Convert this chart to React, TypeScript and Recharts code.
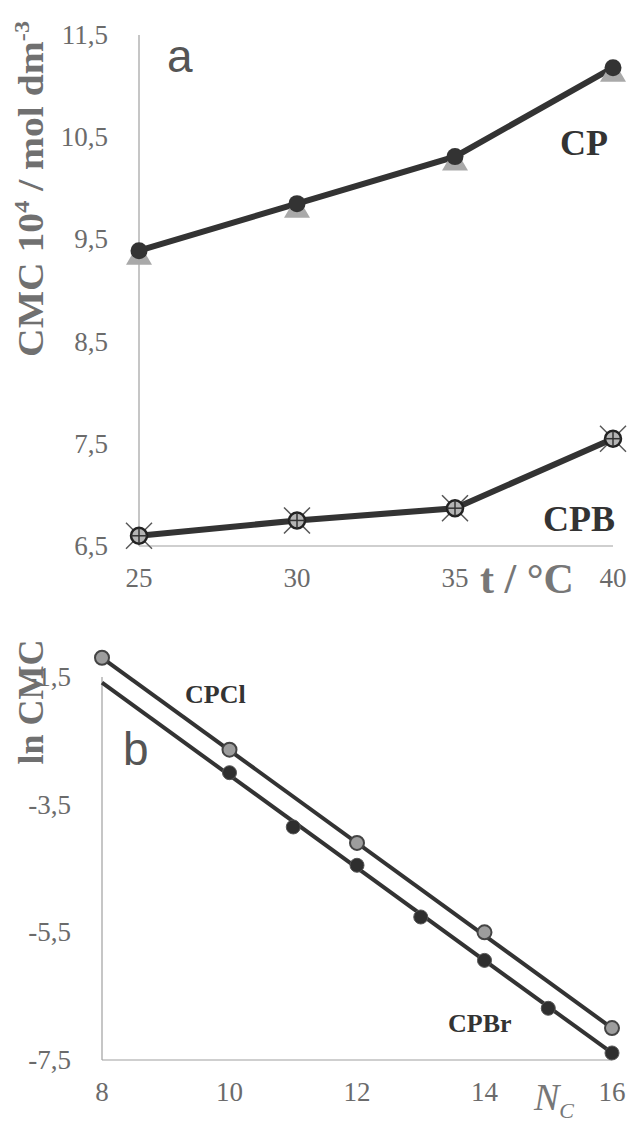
import React from 'react';
import {
  ComposedChart,
  Line,
  LineChart,
  ReferenceLine,
  Scatter,
  XAxis,
  YAxis,
} from 'recharts';

// panel a: CMC vs temperature
const tempC = [25, 30, 35, 40];
const cmcCP = [9.39, 9.85, 10.31, 11.18];
const cmcCPB = [6.6, 6.75, 6.87, 7.55];
const tempTicks = [25, 30, 35, 40];
const cmcTicks = [6.5, 7.5, 8.5, 9.5, 10.5, 11.5];

// panel b: ln CMC vs chain length
const chainCl = [8, 10, 12, 14, 16];
const lnCPCl = [-1.2, -2.64, -4.1, -5.5, -7.0];
const chainBr = [10, 11, 12, 13, 14, 15, 16];
const lnCPBr = [-3.0, -3.85, -4.45, -5.26, -5.94, -6.69, -7.39];
const fitChain = [8, 16];
const fitCPCl = [-1.2, -7.0];
const fitCPBr = [-1.59, -7.39];
const chainTicks = [8, 10, 12, 14, 16];
const lnTicks = [-7.5, -5.5, -3.5, -1.5];

const tempData = tempC.map((t, i) => ({ t, cp: cmcCP[i], cpb: cmcCPB[i] }));
const clData = chainCl.map((n, i) => ({ n, ln: lnCPCl[i] }));
const brData = chainBr.map((n, i) => ({ n, ln: lnCPBr[i] }));
const fitClData = fitChain.map((n, i) => ({ n, ln: fitCPCl[i] }));
const fitBrData = fitChain.map((n, i) => ({ n, ln: fitCPBr[i] }));

const SERIF = '"Liberation Serif", "DejaVu Serif", serif';
const SANS = '"Liberation Sans", Arial, sans-serif';
const AXIS = '#a0a0a0';
const TICK = '#6b6b6b';

const fmt = (v: number) => String(v).replace('.', ',');

const XTick = (props: any) => {
  const { x, y, payload } = props;
  return (
    <text x={x} y={y + 41} textAnchor="middle" fontFamily={SERIF} fontSize={27} fill={TICK}>
      {fmt(payload.value)}
    </text>
  );
};

const YTick = (props: any) => {
  const { x, y, payload } = props;
  return (
    <text x={x - 31} y={y + 9} textAnchor="end" fontFamily={SERIF} fontSize={27} fill={TICK}>
      {fmt(payload.value)}
    </text>
  );
};

const CpDot = (props: any) => {
  const { cx, cy } = props;
  return (
    <g>
      <polygon
        points={`${cx - 13},${cy + 14} ${cx + 13},${cy + 14} ${cx},${cy - 8}`}
        fill="#a9a9a9"
      />
      <circle cx={cx} cy={cy} r={8.5} fill="#333" />
    </g>
  );
};

const CpbDot = (props: any) => {
  const { cx, cy } = props;
  return (
    <g>
      <line x1={cx - 13} y1={cy - 13} x2={cx + 13} y2={cy + 13} stroke="#555" strokeWidth={1.5} />
      <line x1={cx - 13} y1={cy + 13} x2={cx + 13} y2={cy - 13} stroke="#555" strokeWidth={1.5} />
      <circle cx={cx} cy={cy} r={8} fill="#b4b4b4" stroke="#222" strokeWidth={2.5} />
      <line x1={cx - 8} y1={cy} x2={cx + 8} y2={cy} stroke="#333" strokeWidth={1.5} />
      <line x1={cx} y1={cy - 8} x2={cx} y2={cy + 8} stroke="#333" strokeWidth={1.5} />
    </g>
  );
};

const ClDot = (props: any) => (
  <circle cx={props.cx} cy={props.cy} r={7} fill="#9d9d9d" stroke="#444" strokeWidth={2} />
);

const BrDot = (props: any) => (
  <circle cx={props.cx} cy={props.cy} r={7} fill="#2e2e2e" stroke="#555" strokeWidth={1} />
);

function PanelA() {
  return (
    <LineChart
      width={632}
      height={610}
      data={tempData}
      margin={{ top: 35, right: 19, left: 0, bottom: 0 }}
    >
      <XAxis
        dataKey="t"
        type="number"
        domain={[25, 40]}
        ticks={tempTicks}
        height={64}
        tickLine={false}
        tickSize={0}
        tickMargin={0}
        axisLine={{ stroke: AXIS, strokeWidth: 1.2 }}
        tick={<XTick />}
      />
      <YAxis
        type="number"
        domain={[6.5, 11.5]}
        ticks={cmcTicks}
        width={139}
        tickLine={false}
        tickSize={0}
        tickMargin={0}
        axisLine={{ stroke: AXIS, strokeWidth: 1.2 }}
        tick={<YTick />}
      />
      <Line
        dataKey="cp"
        stroke="#333"
        strokeWidth={6}
        dot={<CpDot />}
        isAnimationActive={false}
      />
      <Line
        dataKey="cpb"
        stroke="#333"
        strokeWidth={6}
        dot={<CpbDot />}
        isAnimationActive={false}
      />
    </LineChart>
  );
}

function PanelB() {
  return (
    <ComposedChart width={632} height={524} margin={{ top: 45, right: 20, left: 0, bottom: 0 }}>
      <XAxis
        dataKey="n"
        type="number"
        domain={[8, 16]}
        ticks={chainTicks}
        height={64}
        tickLine={false}
        tickSize={0}
        tickMargin={0}
        axisLine={{ stroke: AXIS, strokeWidth: 1.2 }}
        tick={<XTick />}
      />
      <YAxis
        dataKey="ln"
        type="number"
        domain={[-7.5, -1.0]}
        ticks={lnTicks}
        width={102}
        tickLine={false}
        tickSize={0}
        tickMargin={0}
        axisLine={false}
        tick={<YTick />}
      />
      <ReferenceLine
        segment={[
          { x: 8, y: -7.5 },
          { x: 8, y: -1.5 },
        ]}
        stroke={AXIS}
        strokeWidth={1.2}
      />
      <Line
        data={fitClData}
        dataKey="ln"
        stroke="#333"
        strokeWidth={4}
        dot={false}
        isAnimationActive={false}
      />
      <Line
        data={fitBrData}
        dataKey="ln"
        stroke="#333"
        strokeWidth={4}
        dot={false}
        isAnimationActive={false}
      />
      <Scatter data={clData} dataKey="ln" shape={<ClDot />} isAnimationActive={false} />
      <Scatter data={brData} dataKey="ln" shape={<BrDot />} isAnimationActive={false} />
    </ComposedChart>
  );
}

function Labels() {
  return (
    <svg
      width={632}
      height={1124}
      style={{ position: 'absolute', left: 0, top: 0, pointerEvents: 'none' }}
    >
      <text
        x={43}
        y={189}
        transform="rotate(-90 43 189)"
        textAnchor="middle"
        fontFamily={SERIF}
        fontWeight="bold"
        fontSize={36}
        fill="#707070"
        textLength={336}
        lengthAdjust="spacingAndGlyphs"
      >
        CMC 10
        <tspan fontSize={22} dy={-14}>4</tspan>
        <tspan dy={14}> / mol dm</tspan>
        <tspan fontSize={22} dy={-14}>-3</tspan>
      </text>
      <text x={167} y={72} fontFamily={SANS} fontSize={46} fill="#555">a</text>
      <text x={560} y={155} fontFamily={SERIF} fontWeight="bold" fontSize={36} fill="#333">CP</text>
      <text x={543} y={531} fontFamily={SERIF} fontWeight="bold" fontSize={36} fill="#333">CPB</text>
      <text x={480} y={593} fontFamily={SERIF} fontWeight="bold" fontSize={42} fill="#777">
        t / °C
      </text>

      <text
        x={43}
        y={702}
        transform="rotate(-90 43 702)"
        textAnchor="middle"
        fontFamily={SERIF}
        fontWeight="bold"
        fontSize={36}
        fill="#707070"
      >
        ln CMC
      </text>
      <text x={123} y={765} fontFamily={SANS} fontSize={46} fill="#555">b</text>
      <text x={185} y={703} fontFamily={SERIF} fontWeight="bold" fontSize={26} fill="#333">CPCl</text>
      <text x={448} y={1032} fontFamily={SERIF} fontWeight="bold" fontSize={26} fill="#333">CPBr</text>
      <text x={534} y={1110} fontFamily={SERIF} fontStyle="italic" fontSize={38} fill="#777">
        N
        <tspan fontSize={22} dy={8}>C</tspan>
      </text>
    </svg>
  );
}

export default function App() {
  return (
    <div
      style={{
        position: 'absolute',
        left: 0,
        top: 0,
        width: 632,
        height: 1124,
        background: '#fff',
        overflow: 'hidden',
      }}
    >
      <div style={{ position: 'absolute', left: 0, top: 0 }}>
        <PanelA />
      </div>
      <div style={{ position: 'absolute', left: 0, top: 600 }}>
        <PanelB />
      </div>
      <Labels />
    </div>
  );
}
